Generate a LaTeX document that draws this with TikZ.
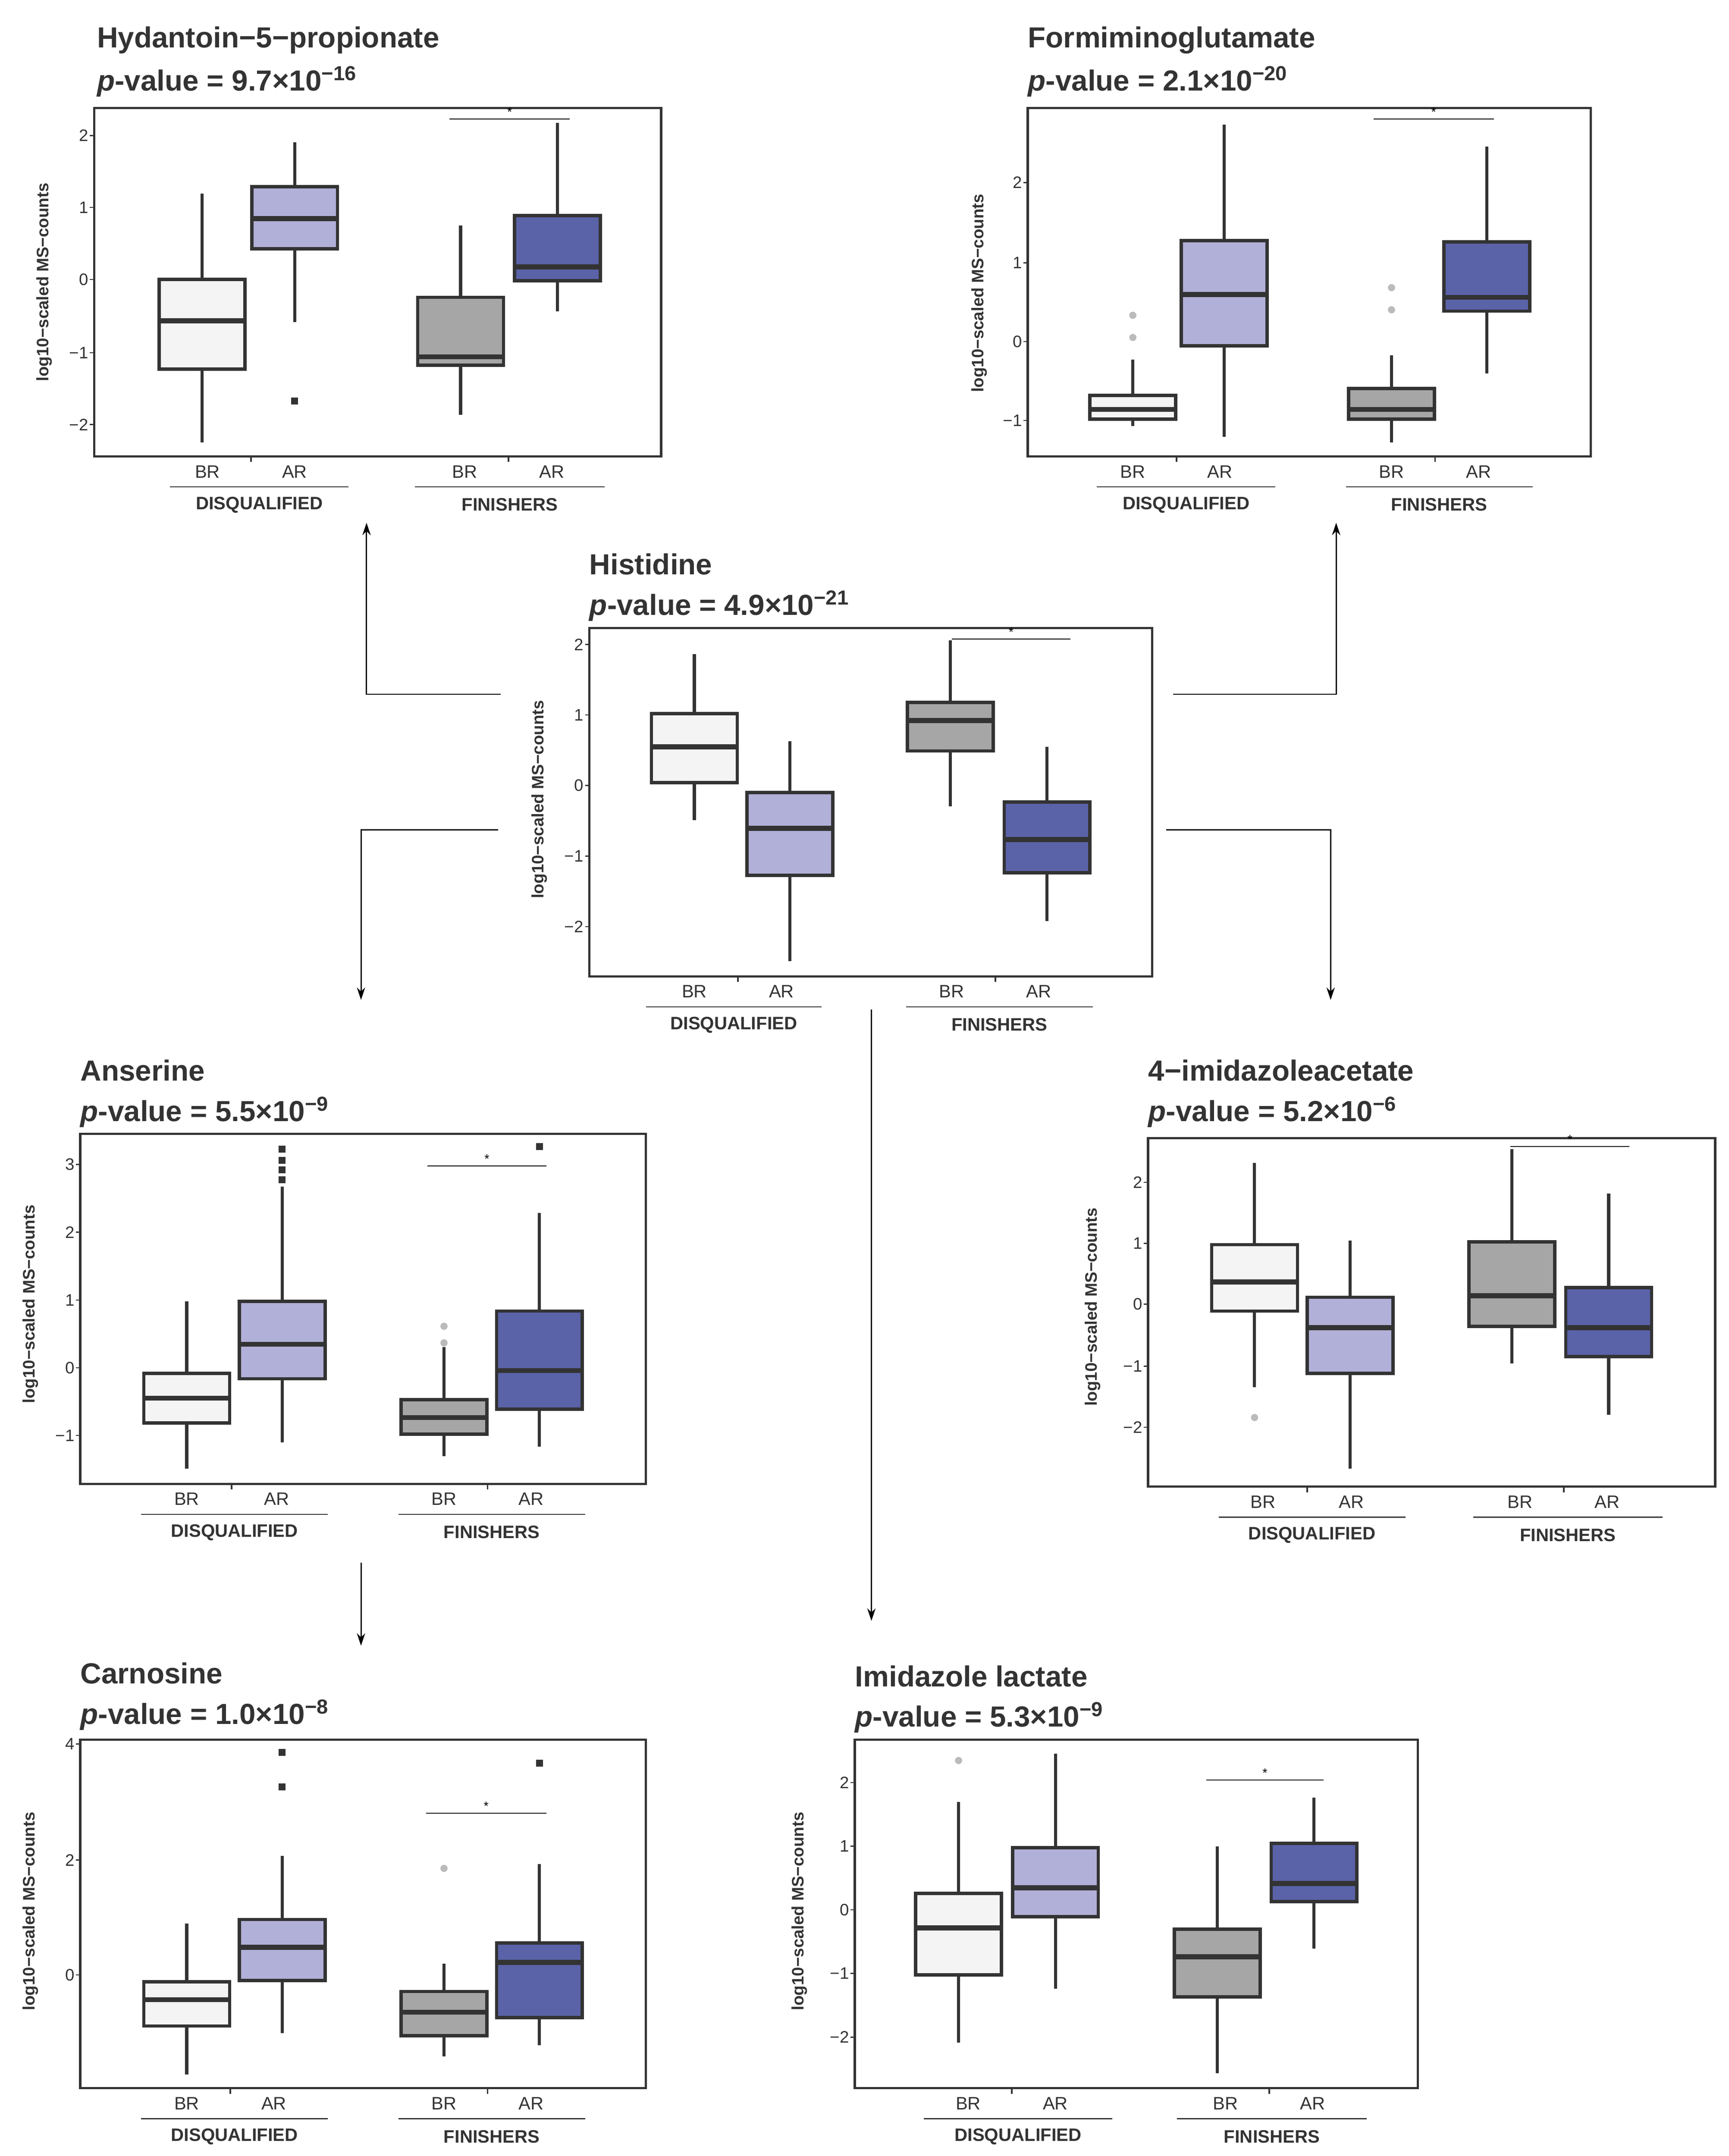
\documentclass[tikz,border=0pt]{standalone}
\usepackage{fontspec}
\setmainfont{Liberation Sans}
\usetikzlibrary{arrows.meta}
\definecolor{dk}{HTML}{333333}
\definecolor{cBD}{HTML}{F4F4F4}
\definecolor{cAD}{HTML}{B0B0D8}
\definecolor{cBF}{HTML}{A6A6A6}
\definecolor{cAF}{HTML}{5A62A8}
\definecolor{og}{HTML}{BBBBBB}
\tikzset{
  wh/.style={draw=dk,line width=2.2pt},
  bx/.style={draw=dk,line width=2.4pt},
  md/.style={draw=dk,line width=3.6pt},
  frm/.style={draw=dk,line width=1.6pt},
  arr/.style={draw=black,line width=0.9pt,-{Stealth[length=9pt,width=6pt]}},
  ttl/.style={anchor=west,font=\bfseries\fontsize{21}{24}\selectfont,text=dk,inner sep=0},
  tk/.style={anchor=east,font=\fontsize{12}{14}\selectfont,text=dk,inner sep=1pt},
  yl/.style={rotate=90,font=\bfseries\fontsize{12}{14}\selectfont,text=dk},
  xl/.style={font=\fontsize{13}{15}\selectfont,text=dk},
  gl/.style={font=\bfseries\fontsize{13}{15}\selectfont,text=dk},
}
\newcommand\bxp[7]{%
  \draw[wh] (#1,#2) -- (#1,#3);
  \draw[wh] (#1,#5) -- (#1,#6);
  \filldraw[bx,fill=#7] ({#1-31},#3) rectangle ({#1+31},#5);
  \draw[md] ({#1-31},#4) -- ({#1+31},#4);}
\newcommand\ytk[3]{\draw[dk,line width=0.8pt] ({#1-3},#2) -- (#1,#2);
  \node[tk] at ({#1-3},#2) {#3};}
\newcommand\grp[6]{%
  \node[xl] at (#1,{#3+11}) {BR};
  \node[xl] at (#2,{#3+11}) {AR};
  \draw[dk,line width=1.2pt] ({(#1+#2)/2},#3) -- ({(#1+#2)/2},{#3+4});
  \draw[dk,line width=0.8pt] (#4,{#3+22}) -- (#5,{#3+22});
  \node[gl] at ({(#4+#5)/2},{#3+35}) {#6};}
\newcommand\sig[3]{\draw[black,line width=0.6pt] (#1,#3) -- (#2,#3);
  \node[font=\fontsize{9}{9}\selectfont,inner sep=0] at ({(#1+#2)/2},{#3-5}) {*};}
\newcommand\pv[2]{\textit{p}-value = #1×10\textsuperscript{−#2}}
\newcommand\sq[2]{\fill[dk] ({#1-2.5},{#2-2.5}) rectangle ({#1+2.5},{#2+2.5});}
\newcommand\gd[2]{\fill[og] (#1,#2) circle (2.6);}
\begin{document}
\begin{tikzpicture}[x=1pt,y=-1pt]
\useasboundingbox[fill=white] (0,0) rectangle (1250,1559);
% ---------- Panel 1 Hydantoin
\node[ttl] (t1) at (70,29) {Hydantoin−5−propionate};
\node[ttl] (p1) at (70,59) {\pv{9.7}{16}};
\draw[frm] (68,78) rectangle (478,330);
\ytk{68}{98}{2}\ytk{68}{150}{1}\ytk{68}{202}{0}\ytk{68}{255}{−1}\ytk{68}{307}{−2}
\node[yl] at (32,204) {log10−scaled MS−counts};
\bxp{146}{140}{202}{232}{267}{320}{cBD}
\bxp{213}{103}{135}{158}{180}{233}{cAD}\sq{213}{290}
\bxp{333}{163}{215}{258}{264}{300}{cBF}
\bxp{403}{89}{156}{193}{203}{225}{cAF}
\sig{325}{412}{86}
\grp{150}{213}{330}{123}{252}{DISQUALIFIED}
\grp{336}{399}{330}{300}{437}{FINISHERS}
% ---------- Panel 2 Formiminoglutamate
\node[ttl] (t2) at (743,29) {Formiminoglutamate};
\node[ttl] (p2) at (743,59) {\pv{2.1}{20}};
\draw[frm] (743,78) rectangle (1150,330);
\ytk{743}{132}{2}\ytk{743}{190}{1}\ytk{743}{247}{0}\ytk{743}{304}{−1}
\node[yl] at (708,212) {log10−scaled MS−counts};
\bxp{819}{260}{286}{296}{303}{308}{cBD}\gd{819}{228}\gd{819}{244}
\bxp{885}{90}{174}{213}{250}{316}{cAD}
\bxp{1006}{257}{281}{296}{303}{320}{cBF}\gd{1006}{208}\gd{1006}{224}
\bxp{1075}{106}{175}{215}{225}{270}{cAF}
\sig{993}{1080}{86}
\grp{819}{882}{330}{793}{922}{DISQUALIFIED}
\grp{1006}{1069}{330}{973}{1108}{FINISHERS}
% ---------- Panel 3 Histidine
\node[ttl] (t3) at (426,408) {Histidine};
\node[ttl] (p3) at (426,438) {\pv{4.9}{21}};
\draw[frm] (426,454) rectangle (833,706);
\ytk{426}{466}{2}\ytk{426}{517}{1}\ytk{426}{568}{0}\ytk{426}{619}{−1}\ytk{426}{670}{−2}
\node[yl] at (390,578) {log10−scaled MS−counts};
\bxp{502}{473}{516}{540}{566}{593}{cBD}
\bxp{571}{536}{573}{599}{633}{695}{cAD}
\bxp{687}{463}{508}{521}{543}{583}{cBF}
\bxp{757}{540}{580}{607}{631}{666}{cAF}
\sig{688}{774}{462}
\grp{502}{565}{706}{467}{594}{DISQUALIFIED}
\grp{688}{751}{706}{655}{790}{FINISHERS}
% ---------- Panel 4 Anserine
\node[ttl] (t4) at (58,774) {Anserine};
\node[ttl] (p4) at (58,804) {\pv{5.5}{9}};
\draw[frm] (58,820) rectangle (467,1073);
\ytk{58}{842}{3}\ytk{58}{891}{2}\ytk{58}{940}{1}\ytk{58}{989}{0}\ytk{58}{1038}{−1}
\node[yl] at (22,943) {log10−scaled MS−counts};
\bxp{135}{941}{993}{1011}{1029}{1062}{cBD}
\bxp{204}{858}{941}{972}{997}{1043}{cAD}\sq{204}{831}\sq{204}{839}\sq{204}{846}\sq{204}{853}
\bxp{321}{974}{1012}{1025}{1037}{1053}{cBF}\gd{321}{959}\gd{321}{971}
\bxp{390}{877}{948}{991}{1019}{1046}{cAF}\sq{390}{829}
\sig{309}{395}{843}
\grp{135}{200}{1073}{102}{237}{DISQUALIFIED}
\grp{321}{384}{1073}{288}{423}{FINISHERS}
% ---------- Panel 5 4-imidazoleacetate
\node[ttl] (t5) at (830,774) {4−imidazoleacetate};
\node[ttl] (p5) at (830,804) {\pv{5.2}{6}};
\draw[frm] (830,823) rectangle (1240,1075);
\ytk{830}{855}{2}\ytk{830}{899}{1}\ytk{830}{943}{0}\ytk{830}{988}{−1}\ytk{830}{1032}{−2}
\node[yl] at (790,945) {log10−scaled MS−counts};
\bxp{907}{841}{900}{927}{948}{1003}{cBD}\gd{907}{1025}
\bxp{976}{897}{938}{960}{993}{1062}{cAD}
\bxp{1093}{831}{898}{937}{959}{986}{cBF}
\bxp{1163}{863}{931}{960}{981}{1023}{cAF}
\sig{1092}{1178}{829}
\grp{913}{977}{1075}{881}{1016}{DISQUALIFIED}
\grp{1099}{1162}{1075}{1065}{1202}{FINISHERS}
% ---------- Panel 6 Carnosine
\node[ttl] (t6) at (58,1210) {Carnosine};
\node[ttl] (p6) at (58,1240) {\pv{1.0}{8}};
\draw[frm] (58,1258) rectangle (467,1510);
\ytk{58}{1261}{4}\ytk{58}{1345}{2}\ytk{58}{1428}{0}
\node[yl] at (22,1382) {log10−scaled MS−counts};
\bxp{135}{1391}{1433}{1446}{1465}{1500}{cBD}
\bxp{204}{1342}{1388}{1408}{1432}{1470}{cAD}\sq{204}{1267}\sq{204}{1292}
\bxp{321}{1420}{1440}{1455}{1472}{1487}{cBF}\gd{321}{1351}
\bxp{390}{1348}{1405}{1419}{1459}{1479}{cAF}\sq{390}{1275}
\sig{308}{395}{1311}
\grp{135}{198}{1510}{102}{237}{DISQUALIFIED}
\grp{321}{384}{1510}{288}{423}{FINISHERS}
% ---------- Panel 7 Imidazole lactate
\node[ttl] (t7) at (618,1212) {Imidazole lactate};
\node[ttl] (p7) at (618,1242) {\pv{5.3}{9}};
\draw[frm] (618,1258) rectangle (1025,1510);
\ytk{618}{1289}{2}\ytk{618}{1335}{1}\ytk{618}{1381}{0}\ytk{618}{1427}{−1}\ytk{618}{1473}{−2}
\node[yl] at (578,1382) {log10−scaled MS−counts};
\bxp{693}{1303}{1369}{1394}{1428}{1477}{cBD}\gd{693}{1273}
\bxp{763}{1268}{1336}{1365}{1386}{1438}{cAD}
\bxp{880}{1335}{1395}{1415}{1444}{1499}{cBF}
\bxp{950}{1300}{1333}{1362}{1375}{1409}{cAF}
\sig{872}{957}{1287}
\grp{700}{763}{1510}{668}{804}{DISQUALIFIED}
\grp{886}{949}{1510}{851}{988}{FINISHERS}
% ---------- Arrows
\coordinate (a1s) at (362,502); \coordinate (a1e) at (265,378);
\coordinate (a2s) at (848,502); \coordinate (a2e) at (966,378);
\coordinate (a3s) at (360,600); \coordinate (a3e) at (261,723);
\coordinate (a4s) at (843,600); \coordinate (a4e) at (962,723);
\coordinate (a5s) at (630,730); \coordinate (a5e) at (630,1172);
\coordinate (a6s) at (261,1130); \coordinate (a6e) at (261,1190);
\draw[arr] (a1s) -| (a1e);
\draw[arr] (a2s) -| (a2e);
\draw[arr] (a3s) -| (a3e);
\draw[arr] (a4s) -| (a4e);
\draw[arr] (a5s) -- (a5e);
\draw[arr] (a6s) -- (a6e);
\end{tikzpicture}
\end{document}
